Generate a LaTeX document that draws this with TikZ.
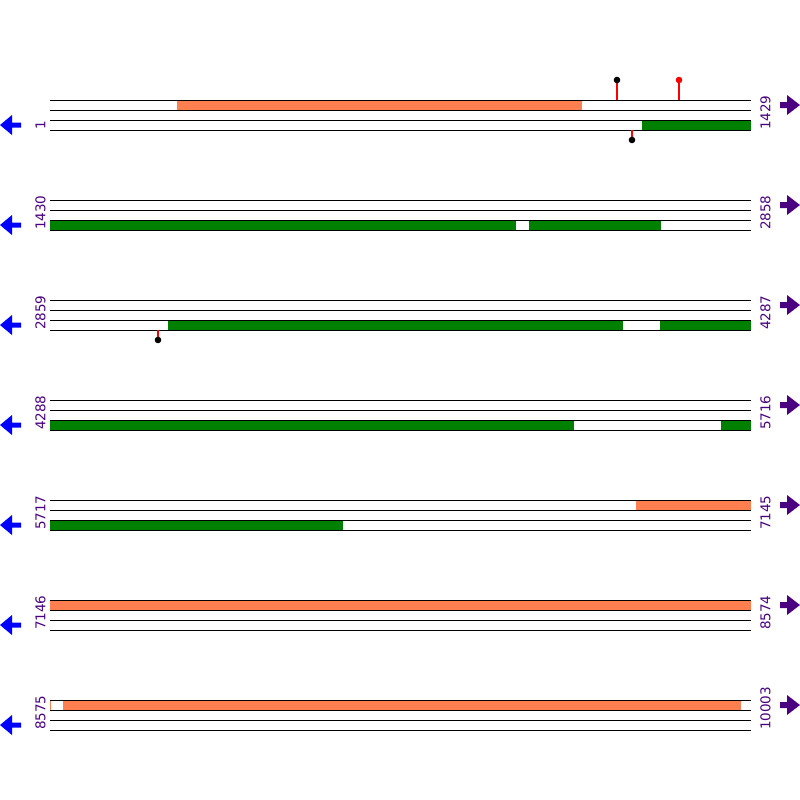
\documentclass[tikz,border=0pt]{standalone}
\usepackage{fontspec}
\setmainfont{DejaVu Sans}
\definecolor{feat}{HTML}{FF7F50}
\definecolor{cds}{HTML}{008000}
\definecolor{lab}{HTML}{4B0082}
\tikzset{
  strand/.style={draw=black, line width=1pt},
  orangebar/.style={fill=feat, draw=none},
  greenbar/.style={fill=cds, draw=none},
  numlab/.style={rotate=90, anchor=west, inner sep=0pt, text=lab, font=\fontsize{13.5}{13.5}\selectfont},
  pinline/.style={draw=red, line width=1.3pt},
}
\begin{document}
\begin{tikzpicture}[x=1pt,y=-1pt]
\useasboundingbox[fill=white] (0,0) rectangle (800,800);
% row 1
\fill[orangebar] (177,100) rectangle (582,110);
\fill[greenbar] (642,120) rectangle (751,130);
% row 2
\fill[greenbar] (50,220) rectangle (516,230);
\fill[greenbar] (529,220) rectangle (661,230);
% row 3
\fill[greenbar] (168,320) rectangle (623,330);
\fill[greenbar] (660,320) rectangle (751,330);
% row 4
\fill[greenbar] (50,420) rectangle (574,430);
\fill[greenbar] (721,420) rectangle (751,430);
% row 5
\fill[orangebar] (636,500) rectangle (751,510);
\fill[greenbar] (50,520) rectangle (343,530);
% row 6
\fill[orangebar] (50,600) rectangle (751,610);
% row 7
\fill[orangebar] (63,700) rectangle (741,710);
\draw[feat, line width=1pt] (50.5,700) -- (50.5,710);
% strands, labels, arrows
\foreach \k/\a/\b in {0/1/1429,1/1430/2858,2/2859/4287,3/4288/5716,4/5717/7145,5/7146/8574,6/8575/10003}{
  \pgfmathsetmacro{\yb}{100+100*\k}
  \foreach \d in {0,10,20,30}{
    \draw[strand] (50,\yb+\d) -- (751,\yb+\d);
  }
  \node[numlab] (l\k) at (40.5,\yb+30) {\a};
  \node[numlab] (r\k) at (765.5,\yb+30) {\b};
  \fill[blue] (0,\yb+25) -- (12,\yb+15) -- (12,\yb+22.5) -- (21,\yb+22.5) -- (21,\yb+27.5) -- (12,\yb+27.5) -- (12,\yb+35) -- cycle;
  \fill[lab] (800,\yb+5) -- (787,\yb-5) -- (787,\yb+2) -- (780,\yb+2) -- (780,\yb+8) -- (787,\yb+8) -- (787,\yb+15) -- cycle;
}
% pins
\coordinate (p1) at (617,100); \coordinate (d1) at (617,80);
\draw[pinline] (p1) -- (d1); \fill[black] (d1) circle (3.3);
\coordinate (p2) at (679,100); \coordinate (d2) at (679,80);
\draw[pinline] (p2) -- (d2); \fill[red] (d2) circle (3.3);
\coordinate (p3) at (632,130); \coordinate (d3) at (632,140);
\draw[pinline] (p3) -- (d3); \fill[black] (d3) circle (3.3);
\coordinate (p4) at (158,330); \coordinate (d4) at (158,340);
\draw[pinline] (p4) -- (d4); \fill[black] (d4) circle (3.3);
\end{tikzpicture}
\end{document}
